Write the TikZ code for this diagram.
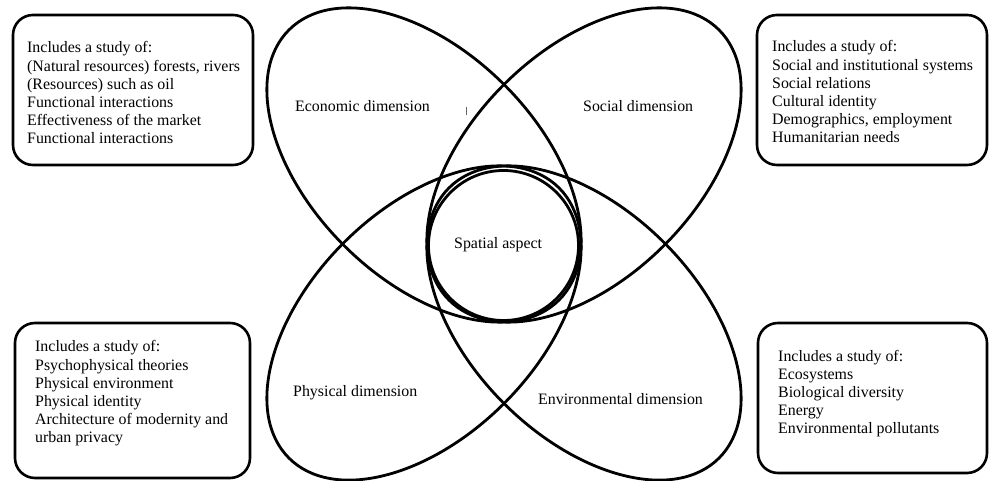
\documentclass[tikz,border=0pt]{standalone}
\usepackage{fontspec}
\setmainfont{Liberation Serif}
\begin{document}
\begin{tikzpicture}[x=1pt,y=1pt,
  ring/.style={draw=black,line width=2.8pt},
  infobox/.style={draw=black,line width=2.6pt,rounded corners=20pt},
  infotext/.style={anchor=base west,inner sep=0pt,align=left,font=\fontsize{15.9}{18.2}\selectfont},
  dimlabel/.style={anchor=base west,inner sep=0pt,font=\fontsize{15.9}{18.2}\selectfont}]
\useasboundingbox (0,0) rectangle (989,481);
% four dimension ellipses
\draw[ring,rotate around={-45:(424,316)}] (424,316) ellipse [x radius=191, y radius=113.5];
\draw[ring,rotate around={45:(584,316)}] (584,316) ellipse [x radius=191, y radius=113.5];
\draw[ring,rotate around={45:(424,158)}] (424,158) ellipse [x radius=191, y radius=113.5];
\draw[ring,rotate around={-45:(584,158)}] (584,158) ellipse [x radius=191, y radius=113.5];
% central circle
\draw[ring] (503.5,235.5) circle [radius=75];
% small tick
\draw[line width=0.8pt,black!60] (466,366) -- (466,374);
% boxes
\draw[infobox] (13,316) rectangle (253,466);
\draw[infobox] (757,316) rectangle (987,466);
\draw[infobox] (15,3) rectangle (250,158);
\draw[infobox] (758,8) rectangle (987,158);
% box texts (anchored at the baseline of the last line)
\node[infotext] (econtext) at (27,337) {Includes a study of:\\(Natural resources) forests, rivers\\(Resources) such as oil\\Functional interactions\\Effectiveness of the market\\Functional interactions};
\node[infotext] (soctext) at (772,338) {Includes a study of:\\Social and institutional systems\\Social relations\\Cultural identity\\Demographics, employment\\Humanitarian needs};
\node[infotext] (phystext) at (35,38) {Includes a study of:\\Psychophysical theories\\Physical environment\\Physical identity\\Architecture of modernity and\\urban privacy};
\node[infotext] (envtext) at (778,47) {Includes a study of:\\Ecosystems\\Biological diversity\\Energy\\Environmental pollutants};
% labels
\node[dimlabel] (econ) at (295,369) {Economic dimension};
\node[dimlabel] (soc) at (583,369) {Social dimension};
\node[dimlabel] (spat) at (454,232) {Spatial aspect};
\node[dimlabel] (phys) at (293,84) {Physical dimension};
\node[dimlabel] (env) at (538,76) {Environmental dimension};
\end{tikzpicture}
\end{document}
